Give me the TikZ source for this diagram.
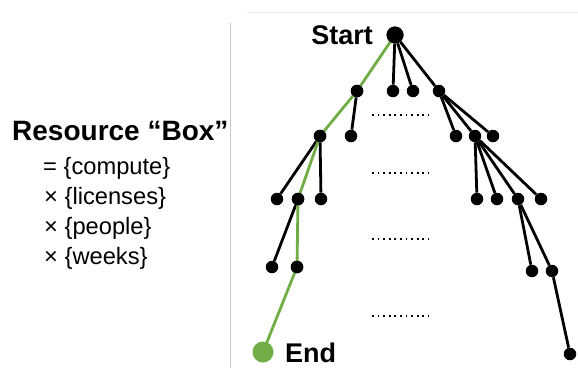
\documentclass[tikz,border=0pt]{standalone}
\usepackage{fontspec}
\setmainfont{Liberation Sans}
\begin{document}
\begin{tikzpicture}[x=1pt,y=-1pt,
  dot/.style={circle,fill=black,inner sep=0pt,minimum size=12.5pt},
  bigdot/.style={circle,fill=black,inner sep=0pt,minimum size=17pt},
  enddot/.style={circle,fill=pathgreen,inner sep=0pt,minimum size=21pt},
  edge/.style={line width=2.8pt,black},
  gedge/.style={line width=2.8pt,pathgreen},
  dots/.style={line width=1.7pt,dash pattern=on 1.7pt off 3.9pt},
  lbl/.style={font=\bfseries\fontsize{27}{30}\selectfont,inner sep=0pt},
  item/.style={font=\fontsize{23.7}{27}\selectfont,anchor=west,inner sep=0pt}]
\definecolor{pathgreen}{RGB}{112,173,71}
\useasboundingbox (0,0) rectangle (578,368);
% faint frame lines
\coordinate (fa) at (230,23);
\coordinate (fb) at (230,368);
\coordinate (fc) at (247,12);
\coordinate (fd) at (578,12);
\draw[gray!45,line width=0.8pt] (fa) -- (fb);
\draw[gray!20,line width=0.8pt] (fc) -- (fd);
% nodes
\node[bigdot] (s) at (395,35) {};
\node[dot] (a1) at (357,91) {};
\node[dot] (a2) at (393,91) {};
\node[dot] (a3) at (413,91) {};
\node[dot] (a4) at (439,91) {};
\node[dot] (b1) at (320,136) {};
\node[dot] (b2) at (351,136) {};
\node[dot] (b3) at (456,136) {};
\node[dot] (b4) at (475,136) {};
\node[dot] (b5) at (493,136) {};
\node[dot] (c1) at (277,199) {};
\node[dot] (c2) at (298,199) {};
\node[dot] (c3) at (321,199) {};
\node[dot] (c4) at (477,199) {};
\node[dot] (c5) at (497,199) {};
\node[dot] (c6) at (518,199) {};
\node[dot] (c7) at (541,199) {};
\node[dot] (d1) at (272,267) {};
\node[dot] (d2) at (297,267) {};
\node[dot] (d3) at (532,271) {};
\node[dot] (d4) at (552,271) {};
\node[dot] (e2) at (570,354) {};
\node[enddot] (e1) at (263,352) {};
% black edges
\draw[edge] (s) -- (a2);
\draw[edge] (s) -- (a3);
\draw[edge] (s) -- (a4);
\draw[edge] (a1) -- (b2);
\draw[edge] (a4) -- (b3);
\draw[edge] (a4) -- (b4);
\draw[edge] (a4) -- (b5);
\draw[edge] (b1) -- (c1);
\draw[edge] (b1) -- (c3);
\draw[edge] (b4) -- (c4);
\draw[edge] (b4) -- (c5);
\draw[edge] (b4) -- (c6);
\draw[edge] (b4) -- (c7);
\draw[edge] (c2) -- (d1);
\draw[edge] (c6) -- (d3);
\draw[edge] (c6) -- (d4);
\draw[edge] (d4) -- (e2);
% green path
\draw[gedge] (s.center) -- (a1.center) -- (b1.center) -- (c2.center) -- (d2.center) -- (e1.center);
\foreach \n in {s,a1,b1,c2,d2} \fill (\n) circle (6.25pt);
\fill (s) circle (8.5pt);
% dotted lines
\coordinate (p1l) at (372,115); \coordinate (p1r) at (429,115);
\coordinate (p2l) at (372,173); \coordinate (p2r) at (429,173);
\coordinate (p3l) at (372,239); \coordinate (p3r) at (429,239);
\coordinate (p4l) at (372,316); \coordinate (p4r) at (429,316);
\draw[dots] (p1l) -- (p1r);
\draw[dots] (p2l) -- (p2r);
\draw[dots] (p3l) -- (p3r);
\draw[dots] (p4l) -- (p4r);
% labels
\node[lbl,anchor=east] (st) at (373,35) {Start};
\node[lbl,anchor=west] (en) at (285,353) {End};
\node[font=\bfseries\fontsize{28}{32}\selectfont,anchor=west,inner sep=0pt] (rb) at (12,131) {Resource “Box”};
\node[item] (i1) at (43,168) {= \{compute\}};
\node[item] (i2) at (44,198) {× \{licenses\}};
\node[item] (i3) at (44,228) {× \{people\}};
\node[item] (i4) at (44,258) {× \{weeks\}};
\end{tikzpicture}
\end{document}
